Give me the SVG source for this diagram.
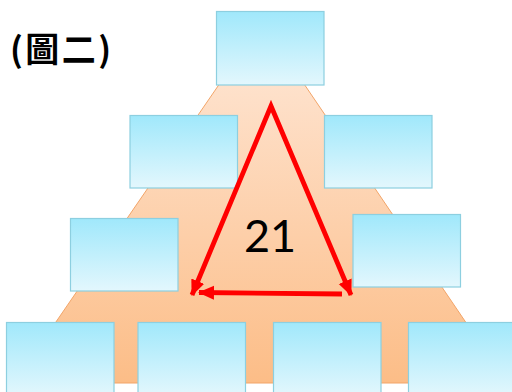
<svg xmlns="http://www.w3.org/2000/svg" width="512" height="392" viewBox="0 0 512 392">
<defs>
<linearGradient id="og" gradientUnits="userSpaceOnUse" x1="0" y1="85" x2="0" y2="383">
<stop offset="0" stop-color="#fee1cb"/>
<stop offset="1" stop-color="#fcbd87"/>
</linearGradient>
<linearGradient id="bg" x1="0" y1="0" x2="0" y2="1">
<stop offset="0" stop-color="#a0e8fb"/>
<stop offset="1" stop-color="#e3f7fd"/>
</linearGradient>
<linearGradient id="bgb" gradientUnits="userSpaceOnUse" x1="0" y1="322" x2="0" y2="396">
<stop offset="0" stop-color="#a0e8fb"/>
<stop offset="1" stop-color="#e3f7fd"/>
</linearGradient>
<marker id="ah" markerUnits="userSpaceOnUse" markerWidth="18" markerHeight="16" refX="15" refY="7" orient="auto-start-reverse">
<path d="M0,0 L16,7 L0,14 z" fill="#ff0000"/>
</marker>
<style>
.box{fill:url(#bg);stroke:#8dcfe0;stroke-width:1.2}
.boxb{fill:url(#bgb);stroke:#8dcfe0;stroke-width:1.2}
.arr{fill:none;stroke:#ff0000;stroke-width:4.8;stroke-linejoin:miter;stroke-miterlimit:10}
</style>
</defs>
<rect width="512" height="392" fill="#ffffff"/>
<g id="pyramid">
<polygon points="262,22 14,383 507,383" fill="url(#og)" stroke="#f2a468" stroke-width="1"/>
</g>
<g id="title">
<text x="10" y="62" font-family="'Noto Sans CJK TC', 'Noto Sans CJK SC', sans-serif" font-weight="bold" font-size="34" letter-spacing="2.5" fill="#000">(圖二)</text>
</g>
<g id="n1"><rect class="box" x="216.5" y="11.5" width="107.5" height="73.5"/></g>
<g id="n2"><rect class="box" x="130" y="115.5" width="107.5" height="72.5"/></g>
<g id="n3"><rect class="box" x="324.5" y="115.5" width="107.5" height="72.5"/></g>
<g id="n4"><rect class="box" x="70.5" y="218.5" width="107.5" height="72.5"/></g>
<g id="n5"><rect class="box" x="353" y="214.5" width="107.5" height="72.5"/></g>
<g id="n6"><rect class="boxb" x="6.5" y="322.5" width="107.5" height="80"/></g>
<g id="n7"><rect class="boxb" x="138" y="322.5" width="107.5" height="80"/></g>
<g id="n8"><rect class="boxb" x="273.5" y="322.5" width="107.5" height="80"/></g>
<g id="n9"><rect class="boxb" x="408.5" y="322.5" width="107.5" height="80"/></g>
<g id="connectors">
<path class="arr" d="M192,295 L271,106 L351,295" marker-start="url(#ah)" marker-end="url(#ah)"/>
<path class="arr" d="M342,294 L199,292.5" marker-end="url(#ah)"/>
</g>
<g id="label">
<text x="270" y="252" text-anchor="middle" font-family="Lato, 'DejaVu Sans', sans-serif" font-size="45" fill="#000">21</text>
</g>
</svg>
